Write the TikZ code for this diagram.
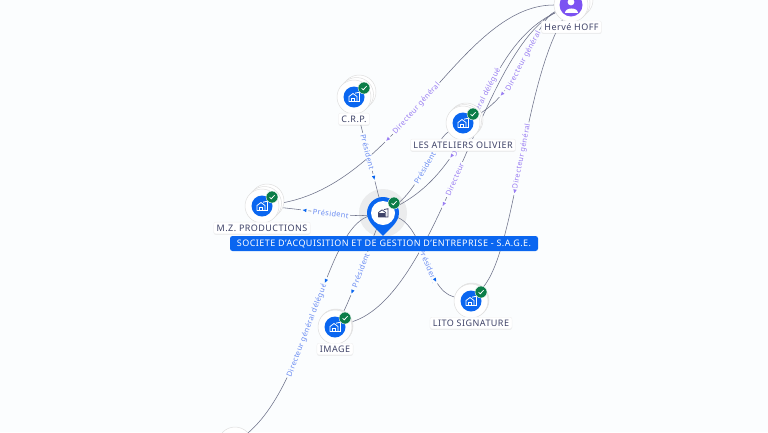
\documentclass[tikz,border=0pt]{standalone}
\usepackage{fontspec}
\setmainfont{Noto Sans}[LetterSpace=5]
\usetikzlibrary{backgrounds,shadows}

\definecolor{fondclair}{HTML}{FBFDFE}
\definecolor{bleusage}{HTML}{0A66F0}
\definecolor{violetpers}{HTML}{7C52F2}
\definecolor{vertok}{HTML}{0B7D48}
\definecolor{traitlien}{HTML}{6C7088}
\definecolor{texteencre}{HTML}{3F4368}
\definecolor{lienbleu}{HTML}{6A8CF2}
\definecolor{lienviolet}{HTML}{9A7EF2}

\tikzset{
	disque/.style={circle,fill=white,draw=gray!25,line width=.5pt,minimum size=34pt,inner sep=0pt},
	pastille/.style={circle,fill=#1,minimum size=21pt,inner sep=0pt},
	badgeok/.style={circle,fill=vertok,draw=white,line width=.4pt,minimum size=12pt,inner sep=0pt},
	etiquette/.style={fill=white,draw=gray!12,line width=.4pt,rounded corners=2pt,inner xsep=3pt,inner ysep=2.5pt,text=texteencre,
		font=\fontsize{9}{10}\selectfont,drop shadow={shadow xshift=0pt,shadow yshift=-1pt,opacity=.12}},
	lien/.style={draw=traitlien,line width=.55pt},
	texlien/.style={sloped,fill=fondclair,inner xsep=1.5pt,inner ysep=.5pt,text=#1,font=\fontsize{7.4}{8}\selectfont},
	pointe/.style={sloped,allow upside down,circle,fill=fondclair,minimum size=8pt,inner sep=0pt,
		path picture={\fill[#1] (-1.8pt,1.7pt) -- (2pt,0pt) -- (-1.8pt,-1.7pt) -- cycle;}},
	pics/maison/.style={code={
		\draw[#1,line width=.8pt,line join=round] (-5,4.5) -- (-5,-.5) -- (-1,-3.5) -- (3,-.5) -- (3,4.5) -- cycle;
		\draw[#1,line width=.8pt] (-2.6,4.5) -- (-2.6,1.2) -- (.6,1.2) -- (.6,4.5);
		\draw[#1,line width=.8pt] (1,-3.8) -- (5.5,-4.8) -- (5.5,4.5) -- (3,4.5);
	}},
	pics/coche/.style={code={
		\draw[white,line width=.8pt] (-2.4,.2) -- (-.8,1.8) -- (2.6,-1.8);
	}},
}

\begin{document}
\begin{tikzpicture}[x=1pt,y=-1pt]
	\useasboundingbox (0,0) rectangle (768,432);

	% Entreprises et personne
	\foreach \nom/\px/\py/\dec/\coul/\txt in {
		crp/354/97/5/bleusage/C.R.P.,
		mz/262/206/5/bleusage/M.Z. PRODUCTIONS,
		ateliers/463/123/3/bleusage/LES ATELIERS OLIVIER,
		image/335/327/1/bleusage/IMAGE,
		lito/471/301/1/bleusage/LITO SIGNATURE}{
		\node[disque] (\nom-b) at (\px+\dec,\py-\dec) {};
		\node[disque] (\nom-a) at (\px+\dec/2,\py-\dec/2) {};
		\node[disque] (\nom) at (\px,\py) {};
		\node[pastille=\coul] (\nom-p) at (\nom) {};
		\pic at (\nom) {maison=white};
		\node[badgeok] (\nom-ok) at (\px+10,\py-9) {};
		\pic at (\nom-ok) {coche};
		\node[etiquette] (\nom-t) at (\px,\py+22) {\txt};
	}

	% La personne en haut
	\node[disque] (herve-b) at (576,0) {};
	\node[disque] (herve-a) at (573,3) {};
	\node[disque] (herve) at (571,5) {};
	\node[pastille=violetpers,minimum size=23pt] (herve-p) at (herve) {};
	\fill[white] (571,2) circle (3.4);
	\fill[white] (564.5,12.5) .. controls (564.5,6.5) and (577.5,6.5) .. (577.5,12.5) -- cycle;
	\node[etiquette] (herve-t) at (571.5,27) {Hervé HOFF};

	% Entreprise coupee en bas
	\node[disque] (bas) at (235,444) {};

	% Le marqueur central
	\fill[gray,opacity=.13] (383,213) circle (24);
	\fill[bleusage] (383,236) .. controls (378,230) and (367,223) .. (367,213)
		arc[start angle=180,end angle=360,radius=16]
		.. controls (399,223) and (388,230) .. (383,236) -- cycle;
	\node[circle,fill=white,minimum size=24pt,inner sep=0pt] (sage) at (383,213) {};
	\pic[scale=.9] at (sage) {maison={texteencre}};
	\fill[texteencre] (379,213) rectangle (385,217);
	\node[badgeok] (sage-ok) at (394,203) {};
	\pic at (sage-ok) {coche};
	\node[fill=bleusage,rounded corners=2.5pt,text=white,inner xsep=3.5pt,inner ysep=2.5pt,
		font=\fontsize{9}{10}\selectfont,minimum width=308pt,minimum height=15pt] (sage-t) at (384,243.5)
		{SOCIETE D'ACQUISITION ET DE GESTION D'ENTREPRISE - S.A.G.E.};

	% Les liens
	\begin{scope}[on background layer]
		\fill[fondclair] (0,0) rectangle (768,432);
		\draw[lien] (herve) .. controls (460,5) and (400,185) .. (mz)
			node[pos=.54,texlien=lienviolet] (l1) {Directeur général}
			node[pos=.65,pointe=lienviolet] (f1) {};
		\draw[lien] (herve) .. controls (478,50) and (482,165) .. (sage)
			node[pos=.52,texlien=lienviolet] (l2) {Directeur général délégué}
			node[pos=.71,pointe=lienviolet] (f2) {};
		\draw[lien] (herve) .. controls (480,50) and (440,295) .. (image)
			node[pos=.52,texlien=lienviolet] (l3) {Directeur}
			node[pos=.58,pointe=lienviolet] (f3) {};
		\draw[lien] (herve) .. controls (535,20) and (522,90) .. (ateliers)
			node[pos=.53,texlien=lienviolet] (l4) {Directeur général}
			node[pos=.79,pointe=lienviolet] (f4) {};
		\draw[lien] (herve) .. controls (522,90) and (516,250) .. (lito)
			node[pos=.47,texlien=lienviolet] (l5) {Directeur général}
			node[pos=.58,pointe=lienviolet] (f5) {};
		\draw[lien] (ateliers) .. controls (435,140) and (420,190) .. (sage)
			node[pos=.52,texlien=lienbleu] (l6) {Président};
		\draw[lien] (crp) .. controls (362,130) and (372,170) .. (sage)
			node[pos=.5,texlien=lienbleu] (l7) {Président}
			node[pos=.76,pointe=bleusage] (f7) {};
		\draw[lien] (sage) .. controls (350,218) and (310,210) .. (mz)
			node[pos=.48,texlien=lienbleu] (l8) {Président}
			node[pos=.74,pointe=bleusage] (f8) {};
		\draw[lien] (sage) .. controls (370,245) and (350,300) .. (image)
			node[pos=.49,texlien=lienbleu] (l9) {Président}
			node[pos=.7,pointe=bleusage] (f9) {};
		\draw[lien] (sage) .. controls (425,225) and (425,290) .. (lito)
			node[pos=.58,texlien=lienbleu] (l10) {Président}
			node[pos=.72,pointe=bleusage] (f10) {};
		\draw[lien] (sage) .. controls (325,225) and (310,380) .. (bas)
			node[pos=.58,texlien=lienbleu] (l11) {Directeur général délégué}
			node[pos=.4,pointe=bleusage] (f11) {};
	\end{scope}
\end{tikzpicture}
\end{document}
